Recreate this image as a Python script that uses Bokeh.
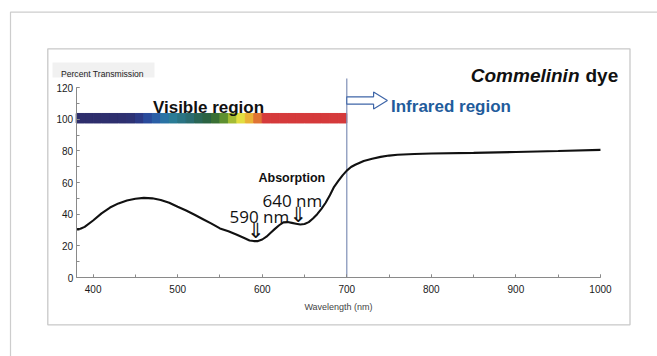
from bokeh.plotting import figure
from bokeh.models import Range1d, Label, BoxAnnotation, SingleIntervalTicker, ColumnDataSource
from bokeh.embed import file_html
from bokeh.resources import INLINE

# ---------------- data ----------------
wavelength = [380, 385, 390, 400, 410, 420, 430, 440, 450, 460, 470, 480, 490, 500,
              510, 520, 530, 540, 550, 560, 570, 580, 585, 590, 595, 600, 605, 610,
              615, 620, 625, 630, 635, 640, 645, 650, 655, 660, 665, 670, 675, 680,
              685, 690, 695, 700, 705, 710, 720, 730, 740, 750, 760, 780, 800, 850,
              900, 950, 1000]
transmission = [30.5, 30.8, 32.0, 36.0, 40.5, 44.2, 46.8, 48.6, 49.7, 50.3, 50.0, 49.0,
                47.2, 44.7, 42.3, 39.6, 36.8, 34.0, 31.0, 29.2, 27.0, 24.6, 23.4, 23.0,
                23.0, 24.0, 25.8, 28.3, 30.7, 33.0, 34.8, 35.0, 34.5, 34.0, 33.5, 33.8,
                35.0, 37.3, 40.0, 43.3, 47.2, 52.0, 57.3, 61.0, 64.5, 67.5, 69.8, 71.2,
                73.6, 75.0, 76.2, 77.0, 77.5, 78.0, 78.3, 78.7, 79.3, 79.9, 80.6]

spectrum_start = [380, 390, 400, 410, 420, 430, 440, 450, 460, 470, 480, 490, 500, 510,
                  520, 530, 540, 550, 560, 570, 580, 590, 600, 610, 620, 630, 640, 650,
                  660, 670, 680, 690]
spectrum_colors = ["#2e2e6c", "#2e2e6c", "#2e2e6c", "#2e2f6e", "#2e2f6e", "#2e3070",
                   "#2d3274", "#2c3a86", "#2a4b9c", "#2a5fa6", "#2a73a4", "#2a7c96",
                   "#2a7484", "#2a6c70", "#2a6656", "#2b6342", "#3a7034", "#5e9030",
                   "#a4bc34", "#e2de40", "#e9b236", "#e07434", "#d53a3b", "#d53a3b",
                   "#d53a3b", "#d53a3b", "#d53a3b", "#d53a3b", "#d53a3b", "#d53a3b",
                   "#d53a3b", "#d53a3b"]
spectrum_step = 10
spectrum_band = (97.6, 103.6)
visible_limit = 700
ir_arrow_len = 48
ir_arrow_y = 111.8

x_min, x_max = 380, 1000
y_min, y_max = 0, 120

# ---------------- pixel <-> data helpers (picture coordinates) ----------------
W, H = 657, 356
OFF = 0
X0_PX, SX = 75.7, 0.8456      # px of x=380, px per nm
Y0_PX, SY = 277.0, 1.5833     # px of y=0, px per unit


def xd(px):
    return x_min + (px - X0_PX) / SX


def yd(py):
    return (Y0_PX - py) / SY


p = figure(width=W, height=H, output_backend="svg", toolbar_location=None,
           x_range=Range1d(xd(OFF), xd(OFF + W)), y_range=Range1d(yd(OFF + H), yd(OFF)),
           min_border=0, background_fill_color="white", border_fill_color="white")
p.outline_line_color = None
p.grid.visible = False

# frames
p.add_layout(BoxAnnotation(left=xd(10), right=xd(900), top=yd(11.7), bottom=yd(600),
                           fill_color=None, line_color="#5a5a5a", line_width=1.2))
p.add_layout(BoxAnnotation(left=xd(47.3), right=xd(629.5), top=yd(48.3), bottom=yd(324.3),
                           fill_color=None, line_color="#4a4a4a", line_width=1.3))
p.add_layout(BoxAnnotation(left=xd(52), right=xd(154), top=yd(62), bottom=yd(77),
                           fill_color="#f1f1f1", fill_alpha=1, line_color=None, level="underlay"))

# axes
axis_font = "Liberation Sans"
xa = p.xaxis[0]
xa.fixed_location = 0
xa.bounds = (x_min, x_max)
xa.ticker = SingleIntervalTicker(interval=100, num_minor_ticks=2)
xa.axis_label = "Wavelength (nm)"
xa.axis_label_text_font = axis_font
xa.axis_label_text_font_size = "9px"
xa.axis_label_text_font_style = "normal"
xa.axis_label_standoff = 6
ya = p.yaxis[0]
ya.fixed_location = x_min
ya.bounds = (y_min, y_max)
ya.ticker = SingleIntervalTicker(interval=20, num_minor_ticks=2)
for ax in (xa, ya):
    ax.axis_line_color = "#8a8a8a"
    ax.major_tick_line_color = "#8a8a8a"
    ax.minor_tick_line_color = "#8a8a8a"
    ax.major_tick_in = 3
    ax.major_tick_out = 0
    ax.minor_tick_in = 3
    ax.minor_tick_out = 0
    ax.major_label_text_font = axis_font
    ax.major_label_text_font_size = "10px"
    ax.major_label_text_color = "#1a1a1a"
xa.major_label_standoff = 7
ya.major_label_standoff = 3

# spectrum bar
spec = ColumnDataSource(dict(left=spectrum_start,
                             right=[s + spectrum_step for s in spectrum_start],
                             color=spectrum_colors))
p.quad(left="left", right="right", bottom=spectrum_band[0], top=spectrum_band[1],
       fill_color="color", line_color="color", line_width=1, source=spec)

# visible / IR boundary
p.segment(x0=[visible_limit], y0=[y_min], x1=[visible_limit], y1=[yd(78)],
          line_color="#7f8fb6", line_width=1.2)

# hollow arrow
ax0 = visible_limit
ax1 = visible_limit + ir_arrow_len * 0.66
ax2 = visible_limit + ir_arrow_len
sh, hh = 2.3, 5.4
p.patch(x=[ax0, ax1, ax1, ax2, ax1, ax1, ax0],
        y=[ir_arrow_y + sh, ir_arrow_y + sh, ir_arrow_y + hh, ir_arrow_y,
           ir_arrow_y - hh, ir_arrow_y - sh, ir_arrow_y - sh],
        fill_color="white", line_color="#3f66a8", line_width=1.2)

# curve
src = ColumnDataSource(dict(x=wavelength, y=transmission))
p.line("x", "y", source=src, line_color="#111111", line_width=2.1)

# texts
def lab(text, px, py, size, font="Liberation Sans", style="normal", color="#111111",
        align="left", baseline="alphabetic"):
    p.add_layout(Label(x=xd(px), y=yd(py), text=text, text_font=font,
                       text_font_size=size, text_font_style=style, text_color=color,
                       text_align=align, text_baseline=baseline))

lab("Percent Transmission", 60.5, 73, "8.6px", color="#222222")
lab("Visible region", 208, 107, "17px", style="bold", align="center")
lab("Infrared region", 390.5, 105.5, "17px", style="bold", color="#1f5c9c")
lab("Commelinin", 579, 75, "19px", style="bold italic", align="right")
lab("dye", 585, 75, "19px", style="bold")
lab("Absorption", 258, 177.5, "12.5px", style="bold")
lab("640 nm", 262, 199.5, "17px", font="Open Sans")
lab("590 nm", 229, 216, "17px", font="Open Sans")
lab("\u21d3", 255, 230.5, "21px", font="DejaVu Sans", align="center", baseline="middle")
lab("\u21d3", 297.5, 214, "21px", font="DejaVu Sans", align="center", baseline="middle")

open("out.html", "w").write(file_html(p, INLINE))
